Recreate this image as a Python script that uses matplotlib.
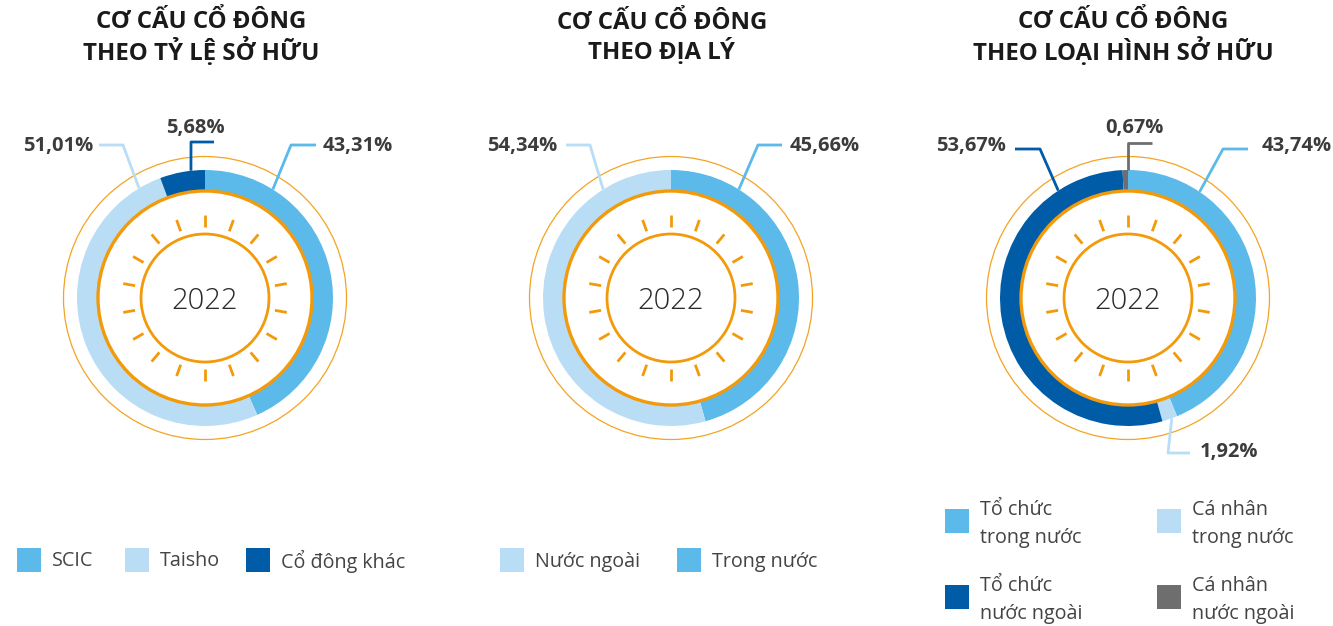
import numpy as np
import matplotlib
matplotlib.use("Agg")
import matplotlib.pyplot as plt
from matplotlib.patches import Circle, Rectangle

# ---------------- data ----------------
titles = ["CƠ CẤU CỔ ĐÔNG\nTHEO TỶ LỆ SỞ HỮU",
          "CƠ CẤU CỔ ĐÔNG\nTHEO ĐỊA LÝ",
          "CƠ CẤU CỔ ĐÔNG\nTHEO LOẠI HÌNH SỞ HỮU"]
year_label = "2022"

c1_labels = ["SCIC", "Taisho", "Cổ đông khác"]
c1_values = [43.31, 51.01, 5.68]

c2_labels = ["Trong nước", "Nước ngoài"]
c2_values = [45.66, 54.34]
c2_legend = ["Nước ngoài", "Trong nước"]

c3_labels = ["Tổ chức\ntrong nước", "Cá nhân\ntrong nước", "Tổ chức\nnước ngoài", "Cá nhân\nnước ngoài"]
c3_values = [43.74, 1.92, 53.67, 0.67]

# ---------------- style ----------------
MID = "#5BBAEA"
LIGHT = "#BADDF6"
DARK = "#005CA6"
GRAY = "#6E6E6E"
ORANGE = "#F39A0B"
TXT = "#3C3C3C"

colors = {"SCIC": MID, "Taisho": LIGHT, "Cổ đông khác": DARK,
          "Trong nước": MID, "Nước ngoài": LIGHT,
          "Tổ chức\ntrong nước": MID, "Cá nhân\ntrong nước": LIGHT,
          "Tổ chức\nnước ngoài": DARK, "Cá nhân\nnước ngoài": GRAY}

W, H = 1333, 626
fig = plt.figure(figsize=(W / 100, H / 100), dpi=100)
ax = fig.add_axes([0, 0, 1, 1])

def Y(py):
    return H - py

FONT = ["Open Sans", "DejaVu Sans"]
CY = 298
R_OUT, R_IN = 128, 107

def pct(v):
    return f"{v:.2f}".replace(".", ",") + "%"

def draw_donut(cx, labels, values):
    ax.pie(values, colors=[colors[l] for l in labels], startangle=90, counterclock=False,
           radius=R_OUT, center=(cx, Y(CY)), wedgeprops=dict(width=R_OUT - R_IN, linewidth=0),
           frame=True)
    # decorative circles
    ax.add_patch(Circle((cx, Y(CY)), 141.5, fill=False, ec=ORANGE, lw=0.9, alpha=0.9))
    ax.add_patch(Circle((cx, Y(CY)), R_IN, fill=False, ec=ORANGE, lw=2.4))
    ax.add_patch(Circle((cx, Y(CY)), 64, fill=False, ec=ORANGE, lw=2.0))
    for a in np.arange(0, 360, 20):
        t = np.deg2rad(a)
        r0, r1 = 71, 83
        ax.plot([cx + r0 * np.sin(t), cx + r1 * np.sin(t)],
                [Y(CY) + r0 * np.cos(t), Y(CY) + r1 * np.cos(t)],
                color=ORANGE, lw=2.0, solid_capstyle="butt")
    ax.text(cx, Y(CY + 3), year_label, ha="center", va="center", fontsize=21,
            color="#2a2a2a", family=FONT, fontweight="light")

def leader(cx, ang, pts, color, text, tx, ty, ha):
    t = np.deg2rad(ang)
    xs = [cx + R_OUT * np.sin(t)] + [p[0] for p in pts]
    ys = [Y(CY) + R_OUT * np.cos(t)] + [Y(p[1]) for p in pts]
    ax.plot(xs, ys, color=color, lw=2.0, solid_capstyle="butt")
    ax.text(tx, Y(ty), text, ha=ha, va="center", fontsize=14.5, fontweight="bold",
            color=TXT, family=FONT)

# chart 1
cx1 = 205
draw_donut(cx1, c1_labels, c1_values)
leader(cx1, 32, [(291, 145), (316, 145)], MID, pct(c1_values[0]), 323, 146, "left")
leader(cx1, -31, [(123, 145), (99, 145)], LIGHT, pct(c1_values[1]), 93, 146, "right")
leader(cx1, -6.3, [(191, 142), (214, 142)], DARK, pct(c1_values[2]), 195, 128, "center")

# chart 2
cx2 = 671
draw_donut(cx2, c2_labels, c2_values)
leader(cx2, 32, [(758, 145), (782, 145)], MID, pct(c2_values[0]), 790, 146, "left")
leader(cx2, -32, [(590, 145), (566, 145)], LIGHT, pct(c2_values[1]), 557, 146, "right")

# chart 3
cx3 = 1128
draw_donut(cx3, c3_labels, c3_values)
leader(cx3, 34, [(1223, 149), (1248, 149)], MID, pct(c3_values[0]), 1262, 146, "left")
leader(cx3, 160, [(1168, 453), (1190, 453)], LIGHT, pct(c3_values[1]), 1200, 452, "left")
leader(cx3, -33, [(1040, 149), (1015, 149)], DARK, pct(c3_values[2]), 1006, 146, "right")
leader(cx3, 0, [(1128, 143), (1152, 143)], GRAY, pct(c3_values[3]), 1134, 128, "center")

# titles
for cx, t in zip([201, 662, 1123], titles):
    ax.text(cx, Y(38), t, ha="center", va="center", fontsize=17.3, fontweight="bold",
            color="#1a1a1a", family=FONT, linespacing=1.1)

# legends
def legend_item(x, y, label, color, dy=0):
    ax.add_patch(Rectangle((x, Y(y + 12)), 24, 24, fc=color, ec="none"))
    ax.text(x + 35, Y(y + dy), label, ha="left", va="center", fontsize=14.2, color="#444444",
            family=FONT, linespacing=1.5)

for x, lab in zip([17, 125, 246], c1_labels):
    legend_item(x, 560, lab, colors[lab], 1.5)
for x, lab in zip([500, 677], c2_legend):
    legend_item(x, 560, lab, colors[lab], 1.5)
for (x, y), lab in zip([(945, 521), (1157, 521), (945, 597), (1157, 597)], c3_labels):
    legend_item(x, y, lab, colors[lab], 3)

ax.set_xlim(0, W)
ax.set_ylim(0, H)
ax.set_aspect("equal")
ax.axis("off")
fig.savefig("out.png", dpi=100, facecolor="white")
